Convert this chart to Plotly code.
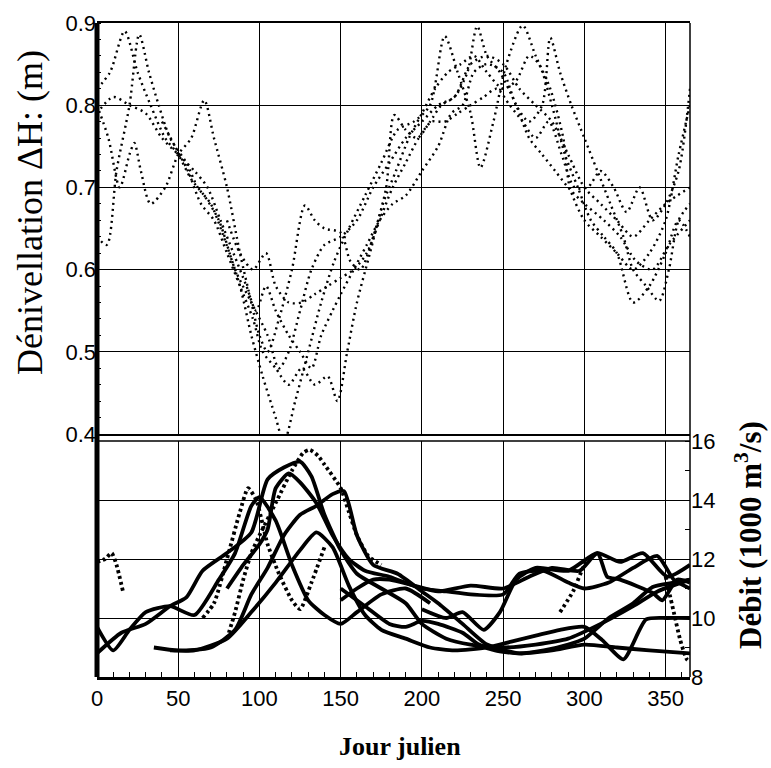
import plotly.graph_objects as go

# ---------------- Upper panel: Dénivellation ΔH (m), one dotted line per year
up_day_1 = [0, 8, 17, 25, 33, 42, 50, 58, 66, 75, 85, 95, 105, 112, 118, 125, 132, 140, 150, 160, 170, 180, 190, 200, 210, 220, 230, 240, 250, 260, 270, 280, 290, 300, 310, 320, 330, 340, 350, 365]
up_dh_1 = [0.82, 0.84, 0.89, 0.84, 0.80, 0.76, 0.74, 0.71, 0.69, 0.66, 0.60, 0.56, 0.52, 0.48, 0.50, 0.55, 0.60, 0.63, 0.64, 0.66, 0.70, 0.73, 0.76, 0.78, 0.80, 0.81, 0.85, 0.86, 0.85, 0.82, 0.80, 0.78, 0.74, 0.70, 0.68, 0.66, 0.64, 0.66, 0.68, 0.70]

up_day_2 = [0, 6, 12, 20, 26, 32, 38, 45, 55, 62, 70, 78, 88, 95, 102, 110, 115, 122, 130, 138, 146, 155, 165, 175, 185, 195, 205, 214, 222, 230, 236, 244, 252, 262, 270, 279, 287, 291, 300, 310, 320, 330, 340, 350, 358, 365]
up_dh_2 = [0.64, 0.63, 0.72, 0.80, 0.886, 0.84, 0.80, 0.76, 0.73, 0.70, 0.68, 0.64, 0.58, 0.52, 0.47, 0.42, 0.39, 0.44, 0.50, 0.56, 0.61, 0.65, 0.69, 0.73, 0.77, 0.78, 0.80, 0.884, 0.84, 0.79, 0.724, 0.78, 0.85, 0.897, 0.86, 0.82, 0.76, 0.70, 0.66, 0.64, 0.62, 0.60, 0.62, 0.66, 0.74, 0.80]

up_day_3 = [0, 7, 14, 20, 23, 27, 33, 42, 50, 58, 66, 72, 80, 88, 95, 100, 105, 112, 120, 128, 134, 140, 150, 156, 162, 170, 178, 183, 190, 197, 205, 212, 220, 228, 234, 240, 248, 258, 266, 274, 282, 290, 300, 312, 322, 332, 342, 352, 365]
up_dh_3 = [0.80, 0.76, 0.70, 0.74, 0.754, 0.72, 0.68, 0.70, 0.74, 0.76, 0.806, 0.76, 0.70, 0.62, 0.56, 0.52, 0.50, 0.54, 0.60, 0.678, 0.66, 0.65, 0.645, 0.61, 0.60, 0.64, 0.70, 0.788, 0.77, 0.76, 0.78, 0.80, 0.81, 0.84, 0.896, 0.86, 0.84, 0.80, 0.76, 0.74, 0.72, 0.70, 0.68, 0.66, 0.64, 0.61, 0.60, 0.63, 0.66]

up_day_4 = [0, 10, 20, 30, 40, 50, 60, 68, 76, 84, 92, 98, 104, 110, 118, 125, 132, 138, 145, 150, 158, 166, 174, 182, 190, 200, 210, 218, 225, 232, 240, 250, 258, 266, 274, 279, 285, 292, 300, 308, 316, 324, 330, 338, 346, 352, 358, 365]
up_dh_4 = [0.79, 0.81, 0.80, 0.79, 0.76, 0.74, 0.72, 0.70, 0.66, 0.62, 0.58, 0.55, 0.58, 0.55, 0.52, 0.50, 0.48, 0.52, 0.55, 0.57, 0.60, 0.63, 0.66, 0.68, 0.69, 0.72, 0.75, 0.79, 0.80, 0.84, 0.85, 0.84, 0.80, 0.78, 0.80, 0.882, 0.84, 0.80, 0.76, 0.72, 0.68, 0.64, 0.60, 0.58, 0.562, 0.60, 0.66, 0.68]

up_day_5 = [40, 48, 56, 64, 72, 80, 88, 96, 102, 110, 118, 126, 134, 142, 148, 154, 160, 168, 176, 184, 192, 200, 208, 216, 224, 232, 240, 250, 258, 266, 272, 280, 288, 296, 304, 312, 320, 330, 340, 350, 358, 365]
up_dh_5 = [0.78, 0.75, 0.72, 0.68, 0.66, 0.62, 0.58, 0.54, 0.50, 0.48, 0.46, 0.48, 0.46, 0.47, 0.44, 0.50, 0.56, 0.62, 0.68, 0.72, 0.76, 0.79, 0.82, 0.84, 0.85, 0.86, 0.84, 0.82, 0.83, 0.86, 0.85, 0.80, 0.74, 0.70, 0.66, 0.64, 0.62, 0.56, 0.58, 0.62, 0.66, 0.64]

up_day_6 = [80, 88, 96, 104, 110, 118, 126, 134, 142, 150, 158, 166, 174, 182, 190, 198, 206, 214, 222, 230, 238, 246, 254, 262, 270, 278, 286, 294, 302, 310, 318, 326, 334, 342, 350, 358, 365]
up_dh_6 = [0.66, 0.62, 0.60, 0.62, 0.58, 0.56, 0.56, 0.57, 0.58, 0.59, 0.60, 0.62, 0.66, 0.70, 0.73, 0.76, 0.78, 0.78, 0.79, 0.80, 0.81, 0.82, 0.80, 0.78, 0.76, 0.78, 0.74, 0.70, 0.70, 0.72, 0.70, 0.67, 0.70, 0.66, 0.68, 0.72, 0.82]

# ---------------- Lower panel: Débit (1000 m3/s)
lo_day_a = [0, 10, 20, 30, 45, 60, 75, 85, 95, 100, 110, 120, 130, 140, 150, 160, 175, 190, 205]
lo_q_a = [9.7, 8.9, 9.6, 10.2, 10.4, 10.1, 11.3, 12.2, 13.8, 14.1, 13.3, 11.8, 10.6, 10.1, 9.8, 10.2, 10.8, 11.0, 10.5]

lo_day_b = [0, 15, 30, 45, 55, 65, 80, 95, 105, 115, 125, 132, 140, 150, 160, 175, 190, 200, 215, 230, 250, 270, 290, 310, 330, 345, 365]
lo_q_b = [8.8, 9.5, 9.8, 10.4, 10.7, 11.6, 12.2, 12.9, 14.7, 15.1, 15.3, 14.8, 13.5, 12.3, 11.5, 11.0, 10.5, 9.8, 9.3, 9.1, 9.0, 9.1, 9.3, 9.8, 10.4, 10.9, 11.3]

lo_day_c = [35, 50, 70, 85, 95, 105, 115, 125, 135, 145, 152, 160, 170, 185, 200, 210, 225, 240, 260, 280, 300, 320, 340, 365]
lo_q_c = [9.0, 8.9, 9.0, 9.6, 10.8, 11.7, 12.8, 13.5, 13.8, 14.2, 14.3, 12.8, 11.8, 11.5, 10.9, 10.5, 9.8, 9.1, 8.8, 8.9, 9.1, 9.0, 8.9, 8.8]

lo_day_d = [80, 90, 100, 105, 110, 118, 125, 135, 145, 155, 165, 180, 200, 215, 230, 250, 260, 275, 290, 300, 315, 330, 345, 355, 365]
lo_q_d = [11.0, 11.8, 12.5, 13.0, 14.4, 14.9, 14.6, 13.9, 12.8, 12.0, 11.6, 11.4, 11.0, 10.9, 10.8, 10.8, 11.5, 11.6, 11.2, 11.0, 11.2, 11.7, 12.1, 11.3, 11.0]

lo_day_e = [150, 160, 170, 180, 195, 210, 230, 250, 266, 280, 297, 308, 322, 336, 351, 365]
lo_q_e = [10.6, 11.0, 11.3, 11.3, 11.1, 10.9, 11.1, 11.0, 11.4, 11.7, 11.6, 12.2, 11.9, 12.2, 11.4, 11.8]

lo_day_f = [45, 60, 80, 95, 110, 125, 135, 145, 155, 165, 175, 190, 205, 220, 240, 255, 270, 285, 300, 311, 324, 338, 351, 365]
lo_q_f = [8.9, 8.9, 9.3, 10.2, 11.2, 12.3, 12.9, 12.4, 11.1, 10.1, 9.6, 9.3, 9.0, 8.9, 9.0, 9.2, 9.4, 9.6, 9.7, 9.25, 8.6, 9.95, 10.0, 10.0]

lo_day_g = [150, 165, 180, 190, 200, 210, 225, 235, 245, 260, 275, 290, 300, 315, 330, 342, 355, 365]
lo_q_g = [11.0, 10.4, 9.8, 9.7, 9.9, 9.8, 9.5, 9.1, 8.9, 8.8, 8.9, 9.1, 9.3, 10.0, 10.5, 11.05, 11.2, 11.3]

lo_day_h = [200, 215, 225, 238, 248, 258, 270, 290, 308, 314, 322, 342, 348, 357, 365]
lo_q_h = [10.3, 10.0, 10.2, 9.6, 10.2, 11.3, 11.7, 11.6, 12.2, 11.4, 11.3, 10.85, 10.6, 11.3, 11.2]

# dotted discharge series
lo_dot_day_1 = [0, 5, 9, 12, 16]
lo_dot_q_1 = [11.9, 12.0, 12.2, 11.8, 10.9]

lo_dot_day_2 = [80, 85, 90, 95, 100, 110, 120, 127, 131, 136, 140, 150, 155, 160, 167, 175]
lo_dot_q_2 = [9.3, 10.2, 11.3, 12.2, 12.8, 13.9, 15.0, 15.6, 15.7, 15.5, 15.2, 14.4, 13.6, 12.8, 12.1, 11.8]

lo_dot_day_3 = [65, 72, 80, 88, 93, 98, 105, 112, 120, 125, 132, 140]
lo_dot_q_3 = [10.0, 10.5, 12.0, 13.6, 14.4, 14.0, 12.5, 11.5, 10.6, 10.3, 11.2, 12.4]

lo_dot_day_4 = [285, 293, 300, 303]
lo_dot_q_4 = [10.2, 10.9, 11.8, 12.0]

lo_dot_day_5 = [350, 355, 359, 363, 365]
lo_dot_q_5 = [11.4, 10.2, 9.25, 8.6, 8.5]

x_ticks = [0, 50, 100, 150, 200, 250, 300, 350]
dh_ticks = [0.4, 0.5, 0.6, 0.7, 0.8, 0.9]
q_ticks = [8, 10, 12, 14, 16]

fig = go.Figure()

upper = [(up_day_1, up_dh_1), (up_day_2, up_dh_2), (up_day_3, up_dh_3),
         (up_day_4, up_dh_4), (up_day_5, up_dh_5), (up_day_6, up_dh_6)]
for d, v in upper:
    fig.add_trace(go.Scatter(x=d, y=v, xaxis="x2", yaxis="y", mode="lines",
                             line=dict(color="black", width=2.4, dash="2px,4px",
                                       shape="spline", smoothing=0.8),
                             showlegend=False, hoverinfo="skip"))

lower_solid = [(lo_day_a, lo_q_a), (lo_day_b, lo_q_b), (lo_day_c, lo_q_c), (lo_day_d, lo_q_d),
               (lo_day_e, lo_q_e), (lo_day_f, lo_q_f), (lo_day_g, lo_q_g), (lo_day_h, lo_q_h)]
for d, v in lower_solid:
    fig.add_trace(go.Scatter(x=d, y=v, xaxis="x", yaxis="y2", mode="lines",
                             line=dict(color="black", width=3.8, shape="spline", smoothing=0.6),
                             showlegend=False, hoverinfo="skip"))

lower_dot = [(lo_dot_day_1, lo_dot_q_1), (lo_dot_day_2, lo_dot_q_2), (lo_dot_day_3, lo_dot_q_3),
             (lo_dot_day_4, lo_dot_q_4), (lo_dot_day_5, lo_dot_q_5)]
for d, v in lower_dot:
    fig.add_trace(go.Scatter(x=d, y=v, xaxis="x", yaxis="y2", mode="lines",
                             line=dict(color="black", width=3.8, dash="3px,3px",
                                       shape="spline", smoothing=0.6),
                             showlegend=False, hoverinfo="skip"))

tickfont = dict(family="Liberation Sans", size=22, color="black")
U_BOT = (677 - 434) / 654
L_TOP = (677 - 441) / 654

fig.update_layout(
    width=771, height=768,
    margin=dict(l=97, r=81, t=23, b=91),
    paper_bgcolor="white", plot_bgcolor="white",
    showlegend=False,
    xaxis=dict(domain=[0, 1], anchor="y2", range=[0, 365], tickvals=x_ticks,
               ticks="", tickfont=tickfont, showgrid=True, gridcolor="black", gridwidth=1.3,
               showline=True, linecolor="black", linewidth=3, zeroline=False,
               minor=dict(dtick=10, tick0=0, ticks="inside", ticklen=5, tickcolor="black", showgrid=False)),
    xaxis2=dict(domain=[0, 1], anchor="y", matches="x", range=[0, 365], tickvals=x_ticks,
                showticklabels=False, ticks="", showgrid=True, gridcolor="black", gridwidth=1.3,
                showline=True, mirror=True, linecolor="black", linewidth=1.5, zeroline=False),
    yaxis=dict(domain=[U_BOT, 1], anchor="x2", range=[0.4, 0.9], tickvals=dh_ticks,
               ticktext=["0.4", "0.5", "0.6", "0.7", "0.8", "0.9"],
               ticks="", tickfont=tickfont, showgrid=True, gridcolor="black", gridwidth=1.3,
               showline=False, zeroline=False,
               minor=dict(dtick=0.02, tick0=0.4, ticks="inside", ticklen=4, tickcolor="black", showgrid=False)),
    yaxis2=dict(domain=[0, L_TOP], anchor="x", side="right", range=[8, 16], tickvals=q_ticks,
                ticks="", tickfont=tickfont, showgrid=True, gridcolor="black", gridwidth=1.3,
                showline=False, zeroline=False,
                minor=dict(dtick=1, tick0=0, ticks="inside", ticklen=5, tickcolor="black", showgrid=False)),
    yaxis3=dict(overlaying="y", anchor="x2", side="right", range=[16.24, 30.15], dtick=1, tick0=0,
                ticks="inside", ticklen=5, tickcolor="black", showticklabels=False,
                showgrid=False, zeroline=False, showline=False),
    yaxis4=dict(overlaying="y2", anchor="x", side="left", range=[0.103, 0.391], dtick=0.02, tick0=0,
                ticks="inside", ticklen=4, tickcolor="black", showticklabels=False,
                showgrid=False, zeroline=False, showline=False),
    shapes=[
        dict(type="line", xref="paper", yref="paper", x0=0, x1=0, y0=0, y1=1,
             line=dict(color="black", width=5)),
        dict(type="line", xref="paper", yref="paper", x0=1, x1=1, y0=0, y1=1,
             line=dict(color="black", width=1.5)),
        dict(type="line", xref="paper", yref="paper", x0=0, x1=1, y0=L_TOP, y1=L_TOP,
             line=dict(color="black", width=1.5)),
    ],
    annotations=[
        dict(text="Dénivellation ΔH: (m)", xref="paper", yref="paper",
             x=(30 - 97) / 593, y=(677 - 213) / 654, textangle=-90, showarrow=False,
             xanchor="center", yanchor="middle",
             font=dict(family="Liberation Serif", size=36, color="black")),
        dict(text="<b>Débit (1000 m<sup>3</sup>/s)</b>", xref="paper", yref="paper",
             x=(748 - 97) / 593, y=(677 - 535) / 654, textangle=-90, showarrow=False,
             xanchor="center", yanchor="middle",
             font=dict(family="Liberation Serif", size=31, color="black")),
        dict(text="<b>Jour julien</b>", xref="paper", yref="paper",
             x=(400 - 97) / 593, y=(677 - 746) / 654, showarrow=False,
             xanchor="center", yanchor="middle",
             font=dict(family="Liberation Serif", size=26, color="black")),
    ],
)

fig.write_html("out.html")
